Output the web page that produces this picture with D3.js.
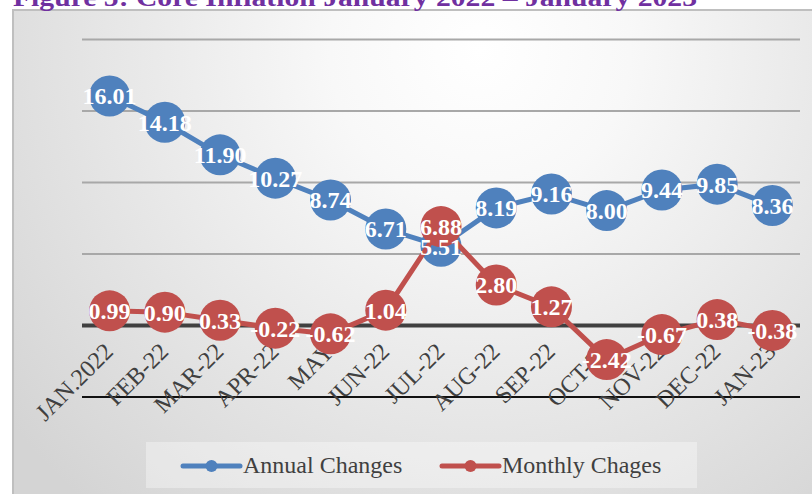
<!DOCTYPE html>
<html>
<head>
<meta charset="utf-8">
<script src="https://cdn.jsdelivr.net/npm/d3@7"></script>
<style>
  body { margin: 0; background: #fff; }
  svg { display: block; font-family: "Liberation Serif", "Times New Roman", serif; }
</style>
</head>
<body>
<svg id="chart" width="812" height="494"></svg>
<script>
const months = ["JAN.2022", "FEB-22", "MAR-22", "APR-22", "MAY", "JUN-22", "JUL-22",
  "AUG-22", "SEP-22", "OCT-22", "NOV-22", "DEC-22", "JAN-23"]
const annual = [16.01, 14.18, 11.90, 10.27, 8.74, 6.71, 5.51, 8.19, 9.16, 8.00, 9.44, 9.85, 8.36]
const monthly = [0.99, 0.90, 0.33, -0.22, -0.62, 1.04, 6.88, 2.80, 1.27, -2.42, -0.67, 0.38, -0.38]
const yTicks = [-5, 0, 5, 10, 15, 20]
const seriesNames = ["Annual Changes", "Monthly Chages"]
const colors = ["#4f81bd", "#c0504d"]

let svg = d3.select("#chart")

// chart area background
let defs = svg.append("defs")
let grad = defs.append("radialGradient")
  .attr("id", "bg")
  .attr("gradientUnits", "userSpaceOnUse")
  .attr("cx", 480).attr("cy", 50).attr("r", 600)
grad.append("stop").attr("offset", "0").attr("stop-color", "#ffffff")
grad.append("stop").attr("offset", "0.25").attr("stop-color", "#f8f8f8")
grad.append("stop").attr("offset", "1").attr("stop-color", "#d4d4d4")

svg.append("rect")
  .attr("x", 13).attr("y", 10).attr("width", 812).attr("height", 500)
  .attr("fill", "url(#bg)")
  .attr("stroke", "#bfbfbf").attr("stroke-width", 2)

// title, mostly cut off at the top
svg.append("text")
  .attr("x", 13).attr("y", 6)
  .attr("textLength", 684).attr("lengthAdjust", "spacingAndGlyphs")
  .attr("fill", "#7030a0")
  .attr("font-weight", "bold")
  .attr("font-size", 26)
  .text("Figure 5: Core Inflation  January 2022 – January 2023")

let x = d3.scalePoint().domain(months).range([82, 800]).padding(0.5)
let y = d3.scaleLinear().domain([-5, 20]).range([396.5, 39])

// gridlines
let grid = svg.append("g")
  .attr("transform", "translate(82,0)")
  .call(d3.axisLeft(y).tickValues(yTicks).tickSize(-718).tickFormat(""))
grid.select(".domain").remove()
grid.selectAll(".tick line")
  .attr("stroke", d => d === 0 ? "#404040" : d === -5 ? "#111" : "#a8a8a8")
  .attr("stroke-width", d => d === 0 ? 4 : 2)

// category labels
svg.append("g").selectAll("text")
  .data(months).enter()
  .append("text")
  .attr("transform", d => `translate(${x(d) - 1},347) rotate(-45)`)
  .attr("text-anchor", "end")
  .attr("dy", "0.35em")
  .attr("font-size", 24)
  .attr("fill", "#404040")
  .text(d => d)

let series = [annual, monthly]
let line = d3.line().x((d, i) => x(months[i])).y(d => y(d))

series.forEach((vals, s) => {
  let g = svg.append("g")
  g.append("path")
    .datum(vals)
    .attr("d", line)
    .attr("fill", "none")
    .attr("stroke", colors[s])
    .attr("stroke-width", 5)
  g.selectAll("circle")
    .data(vals).enter()
    .append("circle")
    .attr("cx", (d, i) => x(months[i]))
    .attr("cy", d => y(d))
    .attr("r", 20.5)
    .attr("fill", colors[s])
})

series.forEach(vals => {
  svg.append("g").selectAll("text")
    .data(vals).enter()
    .append("text")
    .attr("x", (d, i) => x(months[i]))
    .attr("y", d => y(d))
    .attr("dy", "0.35em")
    .attr("text-anchor", "middle")
    .attr("font-size", 24)
    .attr("font-weight", "bold")
    .attr("fill", "#fff")
    .text(d => d.toFixed(2))
})

// legend
let legend = svg.append("g")
legend.append("rect")
  .attr("x", 146).attr("y", 442).attr("width", 551).attr("height", 46)
  .attr("fill", "#ffffff").attr("fill-opacity", 0.35)
let legendX = [183, 442]
seriesNames.forEach((name, s) => {
  let lx = legendX[s]
  legend.append("line")
    .attr("x1", lx).attr("x2", lx + 57).attr("y1", 466).attr("y2", 466)
    .attr("stroke", colors[s]).attr("stroke-width", 5).attr("stroke-linecap", "round")
  legend.append("circle")
    .attr("cx", lx + 28.5).attr("cy", 466).attr("r", 6).attr("fill", colors[s])
  legend.append("text")
    .attr("x", lx + 60).attr("y", 473)
    .attr("font-size", 24)
    .attr("fill", "#404040")
    .text(name)
})
</script>
</body>
</html>
